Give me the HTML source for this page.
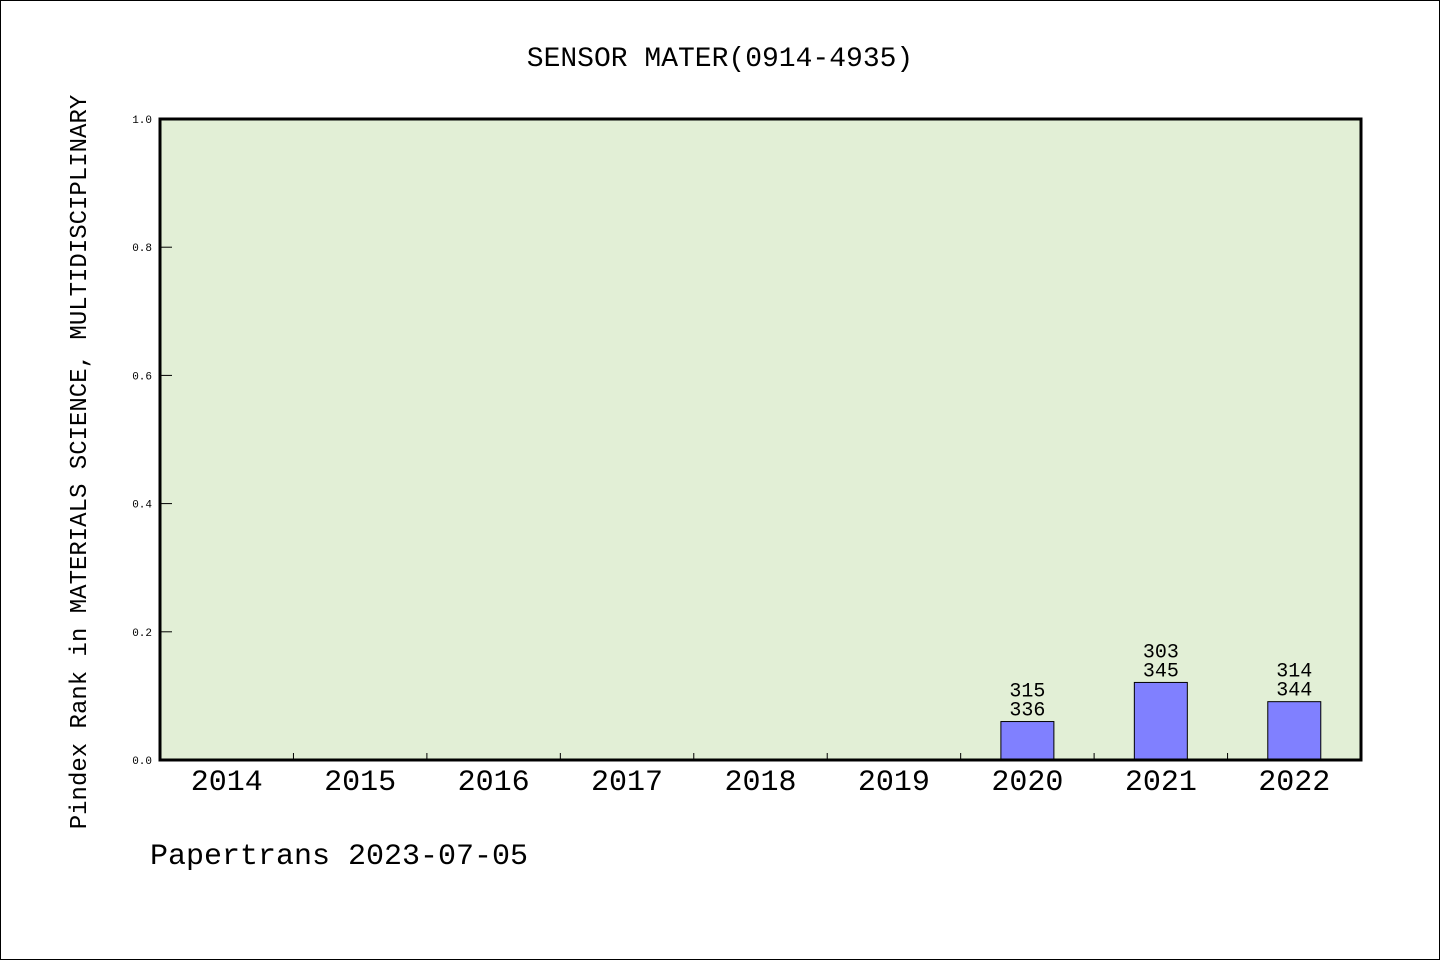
<!DOCTYPE html>
<html><head><meta charset="utf-8"><style>
html,body{margin:0;padding:0;background:#fff}
svg{display:block}
text{font-family:"WenQuanYi Zen Hei Mono","WenQuanYi Zen Hei","Liberation Mono",monospace;fill:#000}
</style></head><body>
<svg id="c" width="1440" height="960" xmlns="http://www.w3.org/2000/svg">
<rect x="0.5" y="0.5" width="1439" height="959" fill="#fff" stroke="#000"/>
<text x="720" y="66" font-size="28" text-anchor="middle">SENSOR MATER(0914-4935)</text>
<rect x="160" y="119" width="1201" height="641" fill="#e2efd6"/>
<g id="marks"></g>
<rect x="160" y="119" width="1201" height="641" fill="none" stroke="#000" stroke-width="3"/>
<text transform="translate(86,462) rotate(-90)" font-size="24" text-anchor="middle">Pindex Rank in MATERIALS SCIENCE, MULTIDISCIPLINARY</text>
<text x="150" y="864" font-size="30">Papertrans 2023-07-05</text>
</svg>
<script>
const years=["2014","2015","2016","2017","2018","2019","2020","2021","2022"];
const values=[0,0,0,0,0,0,0.06,0.121,0.091];
const labelTop=["","","","","","","315","303","314"];
const labelBottom=["","","","","","","336","345","344"];
const yTicks=[0,0.2,0.4,0.6,0.8,1.0];
const L=160,R=1361,T=119,B=760;
const slot=(R-L)/years.length;
const y=v=>B-v*(B-T);
const xc=i=>L+slot*(i+0.5);
const g=document.getElementById('marks');
const NS='http://www.w3.org/2000/svg';
function mk(tag,attrs){const e=document.createElementNS(NS,tag);for(const k in attrs)e.setAttribute(k,attrs[k]);g.appendChild(e);return e;}
yTicks.forEach(t=>{
  const ln=mk('line',{x1:L,x2:L+12,y1:y(t),y2:y(t),stroke:'#000','stroke-width':1});
  
  
  const tx=mk('text',{x:L-8,y:y(t)+4,'font-size':11,'text-anchor':'end'});
  tx.textContent=t.toFixed(1);
  
  
});
years.forEach((yr,i)=>{
  if(i>0){
    const tk=mk('line',{x1:L+slot*i,x2:L+slot*i,y1:B,y2:B-7,stroke:'#000','stroke-width':1});
    
    
  }
  const tx=mk('text',{x:xc(i),y:B+30,'font-size':30,'text-anchor':'middle'});
  tx.textContent=yr;
  
  
  if(values[i]>0){
    const w=53;
    const b=mk('rect',{x:xc(i)-w/2,y:y(values[i]),width:w,height:B-y(values[i]),fill:'#8080ff',stroke:'#000','stroke-width':1});
    
    
    const t1=mk('text',{x:xc(i),y:y(values[i])-25,'font-size':20,'text-anchor':'middle'});
    t1.textContent=labelTop[i];
    
    
    const t2=mk('text',{x:xc(i),y:y(values[i])-6,'font-size':20,'text-anchor':'middle'});
    t2.textContent=labelBottom[i];
    
    
  }
});
</script>
</body></html>
